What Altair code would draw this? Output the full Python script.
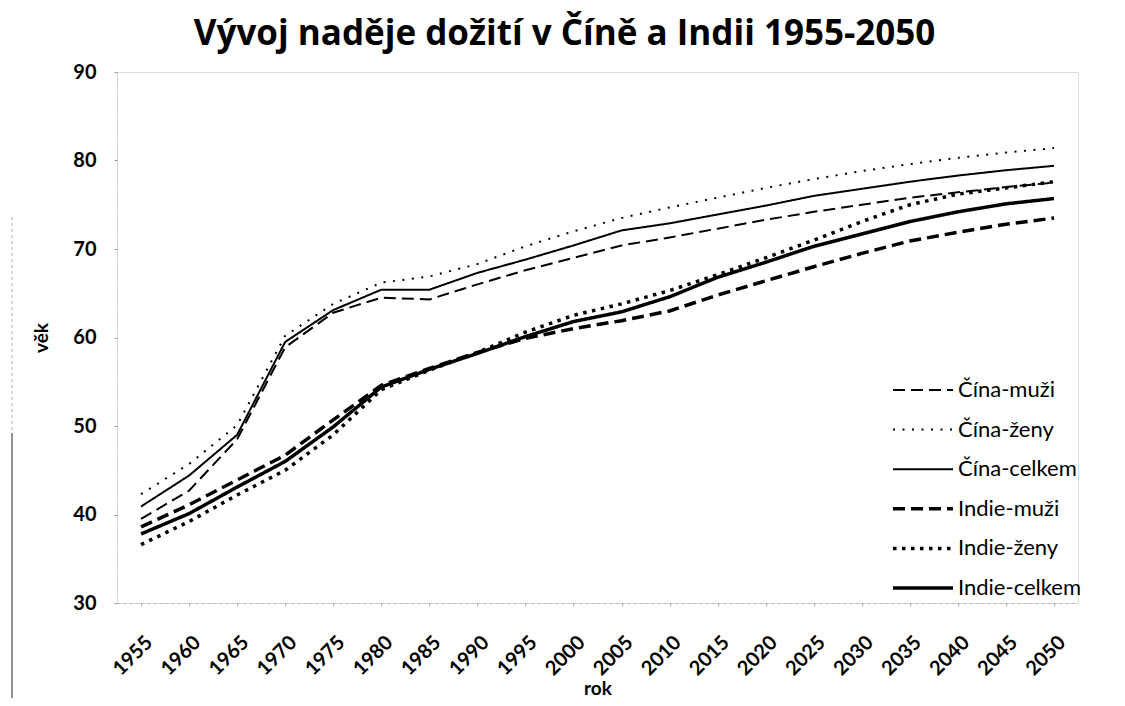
import altair as alt
import pandas as pd

years = [1955, 1960, 1965, 1970, 1975, 1980, 1985, 1990, 1995, 2000,
         2005, 2010, 2015, 2020, 2025, 2030, 2035, 2040, 2045, 2050]

cina_muzi = [39.5, 42.7, 48.5, 58.9, 62.8, 64.5, 64.3, 66.0, 67.6, 69.0,
             70.4, 71.3, 72.3, 73.3, 74.2, 75.0, 75.8, 76.4, 77.0, 77.5]
cina_zeny = [42.3, 45.7, 50.1, 60.2, 63.8, 66.2, 66.9, 68.3, 70.3, 72.0,
             73.5, 74.7, 75.8, 76.9, 77.9, 78.8, 79.6, 80.3, 80.9, 81.4]
cina_celkem = [40.9, 44.4, 49.0, 59.5, 63.1, 65.4, 65.4, 67.3, 68.8, 70.4,
               72.1, 72.9, 73.9, 74.9, 76.0, 76.8, 77.6, 78.3, 78.9, 79.4]
indie_muzi = [38.6, 41.1, 43.9, 46.7, 50.7, 54.6, 56.5, 58.3, 59.9, 61.0,
              61.9, 63.0, 64.8, 66.4, 68.0, 69.5, 70.9, 71.9, 72.8, 73.5]
indie_zeny = [36.6, 39.2, 42.2, 45.0, 49.0, 54.1, 56.3, 58.3, 60.6, 62.5,
              63.8, 65.3, 67.1, 69.0, 71.0, 73.1, 75.0, 76.2, 76.9, 77.6]
indie_celkem = [37.8, 40.1, 43.1, 46.0, 49.9, 54.4, 56.4, 58.2, 60.1, 61.8,
                62.9, 64.6, 66.8, 68.5, 70.3, 71.7, 73.1, 74.2, 75.1, 75.7]

series_names = ["Čína-muži", "Čína-ženy", "Čína-celkem",
                "Indie-muži", "Indie-ženy", "Indie-celkem"]
series_values = [cina_muzi, cina_zeny, cina_celkem,
                 indie_muzi, indie_zeny, indie_celkem]
y_ticks = [30, 40, 50, 60, 70, 80, 90]

rows = []
for name, vals in zip(series_names, series_values):
    for yr, v in zip(years, vals):
        rows.append({"rok": str(yr), "vek": v, "rada": name})
df = pd.DataFrame(rows)

dash_range = [[12, 6], [2, 7.5], [1, 0], [12, 6], [3.5, 5.5], [1, 0]]
width_range = [2, 2, 2, 3.5, 3.5, 3.5]
year_labels = [str(y) for y in years]

FONT = "Lato"

legend = alt.Legend(
    title=None, orient="none", legendX=774, legendY=308,
    symbolType="stroke", symbolSize=3600, symbolStrokeColor="black",
    clipHeight=20, rowPadding=17.6, padding=0,
    labelFont=FONT, labelFontSize=22, labelColor="black", labelOffset=3,
    symbolOffset=0,
)

lines = alt.Chart(df).mark_line(color="black", strokeCap="butt").encode(
    x=alt.X("rok:O", sort=year_labels,
            scale=alt.Scale(type="point", padding=0.5),
            axis=alt.Axis(title="rok", labelAngle=315, labelAlign="right",
                          labelBaseline="middle", labelPadding=33, labelOffset=8,
                          labelFont=FONT, labelFontSize=20, labelFontWeight="bold",
                          labelColor="black",
                          tickSize=3, tickColor="#aaaaaa",
                          domainColor="#bbbbbb", domainDash=[3, 3],
                          titleFont=FONT, titleFontSize=19, titleFontWeight="bold",
                          titleColor="black", titleY=91, titleBaseline="alphabetic")),
    y=alt.Y("vek:Q", scale=alt.Scale(domain=[30, 90], nice=False, zero=False),
            axis=alt.Axis(title="věk", values=y_ticks, grid=False,
                          labelFont=FONT, labelFontSize=20, labelFontWeight="bold",
                          labelColor="black", labelPadding=18,
                          tickSize=3, tickColor="#999999",
                          domainColor="#cccccc", domainDash=[2, 4],
                          titleFont=FONT, titleFontSize=19, titleFontWeight="bold",
                          titleColor="black", titlePadding=21)),
    strokeDash=alt.StrokeDash("rada:N",
                              scale=alt.Scale(domain=series_names, range=dash_range),
                              legend=legend),
    strokeWidth=alt.StrokeWidth("rada:N",
                                scale=alt.Scale(type="ordinal", domain=series_names,
                                                range=width_range),
                                legend=legend),
)

# faint scanned page border on the far left
border_df = pd.DataFrame({"part": ["upper", "lower"]})
border_upper = alt.Chart(border_df).transform_filter(
    alt.datum.part == "upper"
).mark_rule(color="#b0b0b0", strokeWidth=1, strokeDash=[3, 3]).encode(
    x=alt.value(-105), y=alt.value(145), y2=alt.value(361))
border_lower = alt.Chart(border_df).transform_filter(
    alt.datum.part == "lower"
).mark_rule(color="#555555", strokeWidth=1.3).encode(
    x=alt.value(-105), y=alt.value(361), y2=alt.value(626))

chart = alt.layer(lines, border_upper, border_lower).properties(
    width=961, height=531,
    title=alt.TitleParams(
        "Vývoj naděje dožití v Číně a Indii 1955-2050",
        font="Open Sans", fontSize=35, fontWeight="bold", color="black",
        anchor="middle", dx=-33, dy=40, offset=22, baseline="alphabetic"),
    autosize=alt.AutoSizeParams(type="none"),
    padding={"left": 109, "top": 64, "right": 39, "bottom": 95},
).configure_view(stroke=None).configure(background="white")

chart.save("out.html", embed_options={"renderer": "svg", "actions": False})
